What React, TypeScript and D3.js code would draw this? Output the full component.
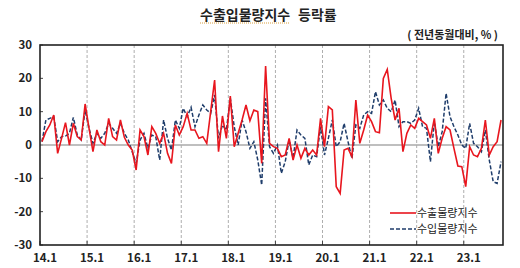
import React from "react";
import * as d3 from "d3";

// 수출입물량지수 등락률 (전년동월대비, %), 2014.1 ~ 2023.10
const exportRate = [
  1, 4, 6, 9, -2.5, 2, 6.7, 0, 6.5, 2.5,
  1.5, 12.3, 5, -2, 4.5, 1, 0, 8, 2.5, 1.5,
  7.5, 2.3, 0, -1.5, -7.5, 4.5, 2.5, -3, 5.5, 3.5,
  0.5, 3.5, -2.5, -5.5, 6, 3, 5.5, 9.5, 4.5, 4.5,
  2, 2.5, 0.5, 10, 19.5, -2, 8.7, 2, 14.7, -0.5,
  3.5, 7.5, 12, 7.3, 10.5, 10, -5.5, 23.7, 0.5, -0.5,
  -1, -3.5, -3, 2, -4.5, 0, -4, -1, -3, -1.5,
  -3, 8, -0.5, 11.5, 10.5, -12.5, -14.5, -1.5, -1, -3.5,
  13.5, 0.5, 4.5, 9, 7, 4, 3.7, 20, 22.7, 14,
  7.5, 11, -2, 3.5, 6, 5, 8, 7, 6, 2,
  8, -2.5, 2, 5.5, 4.5, -1, -6.3, -6.5, -12.5, -0.5,
  -3, -3.5, -1, 7.5, -3, -0.5, 1, 7.5,
];

const importRate = [
  1, 7.5, 8, 8.5, 1, 2.5, 2.7, 3.5, 8.3, 3,
  1.5, 10.5, 5, 0.5, 3.5, 2, 3.5, 6.5, 5, 3.5,
  6.5, 3.5, 1.5, -2, -5.5, 1.5, 3.5, -1, 3, 2.5,
  -4.5, 7.5, 2, -1.5, 7.5, 5, 11, 8.5, 11.3, 5.5,
  9, 12, 10.5, 9.5, 15, 2, 6, 4.5, 14, 5.5,
  0, 7.5, 4, -1, 1, -4.5, -12, 14, -0.5, -2.5,
  0, -8.5, -5, 1.5, -4, 4.5, 3, 2, -6, -3,
  -3.5, 5.5, -3, 2, 7.5, -0.5, 1, 6.5, 1, -4,
  6, 5, 9, 10, 9.5, 16, 12, 13.5, 11, 10,
  13.5, 5.5, 7, 7, 6.5, 7.5, 11, 5.5, 5, -5,
  7, -0.5, 4, 15.5, 8.5, 5.5, 3, 0, -1, 6.5,
  0.5, -0.5, -2, 4.5, -4.5, -11, -11.5, -5,
];

const yearLabels = ["14.1", "15.1", "16.1", "17.1", "18.1", "19.1", "20.1", "21.1", "22.1", "23.1"];
const yTicks = [30, 20, 10, 0, -10, -20, -30];
const months = exportRate.map((_, i) => `${14 + Math.floor(i / 12)}.${(i % 12) + 1}`);

const W = 520;
const H = 268;
const left = 40, right = 503, top = 45, bottom = 245;
const FONT = "'Noto Sans CJK KR', 'Noto Sans', sans-serif";

export default function App() {
  const x = d3.scaleBand<string>().domain(months).range([left, right]).padding(0);
  const y = d3.scaleLinear().domain([-30, 30]).range([bottom, top]);
  const cx = (i: number) => (x(months[i]) as number) + x.bandwidth() / 2;

  const line = d3
    .line<number>()
    .x((_, i) => cx(i))
    .y((d) => y(d));

  return (
    <svg width={W} height={H} style={{ position: "absolute", left: 0, top: 0, background: "#fff" }}>
      {/* title */}
      <text x={200} y={20} fontFamily={FONT} fontSize={14} fontWeight={700} fill="#222">
        수출입물량지수
      </text>
      <text x={298} y={20} fontFamily={FONT} fontSize={14} fontWeight={700} fill="#222">
        등락률
      </text>
      <line x1={200} x2={290} y1={23} y2={23} stroke="#d9a040" strokeWidth={1} strokeDasharray="1,1" />
      <text x={498} y={39} textAnchor="end" fontFamily={FONT} fontSize={11} fontWeight={700} fill="#222">
        ( 전년동월대비, % )
      </text>

      {/* year gridlines */}
      {yearLabels.map((lab, k) => {
        const gx = x(months[k * 12]) as number;
        return (
          <g key={lab}>
            {k > 0 && (
              <line x1={gx} x2={gx} y1={top} y2={bottom} stroke="#999" strokeWidth={0.8} strokeDasharray="3,2" />
            )}
            <line x1={gx} x2={gx} y1={bottom - 4} y2={bottom} stroke="#444" strokeWidth={1} />
            <text x={gx + 5} y={262} textAnchor="middle" fontFamily={FONT} fontSize={11.5} fontWeight={700} fill="#222">
              {lab}
            </text>
          </g>
        );
      })}

      {/* y axis labels and ticks */}
      {yTicks.map((t) => (
        <g key={t}>
          <line x1={left} x2={left + 3} y1={y(t)} y2={y(t)} stroke="#444" strokeWidth={1} />
          <text x={32} y={y(t) + 4} textAnchor="end" fontFamily={FONT} fontSize={11.5} fontWeight={700} fill="#222">
            {t}
          </text>
        </g>
      ))}

      {/* zero line */}
      <line x1={left} x2={right} y1={y(0)} y2={y(0)} stroke="#aaa" strokeWidth={1.5} />

      {/* series */}
      <path d={line(importRate) ?? ""} fill="none" stroke="#1f3d6b" strokeWidth={1.5} strokeDasharray="4,2" />
      <path d={line(exportRate) ?? ""} fill="none" stroke="#e8161e" strokeWidth={1.6} />

      {/* frame */}
      <rect x={left} y={top} width={right - left} height={bottom - top} fill="none" stroke="#222" strokeWidth={1.6} />

      {/* legend */}
      <line x1={390} x2={416} y1={213} y2={213} stroke="#e8161e" strokeWidth={1.6} />
      <text x={417} y={217} fontFamily={FONT} fontSize={11} fill="#222">
        수출물량지수
      </text>
      <line x1={390} x2={416} y1={229} y2={229} stroke="#1f3d6b" strokeWidth={1.5} strokeDasharray="4,2" />
      <text x={417} y={233} fontFamily={FONT} fontSize={11} fill="#222">
        수입물량지수
      </text>
    </svg>
  );
}
